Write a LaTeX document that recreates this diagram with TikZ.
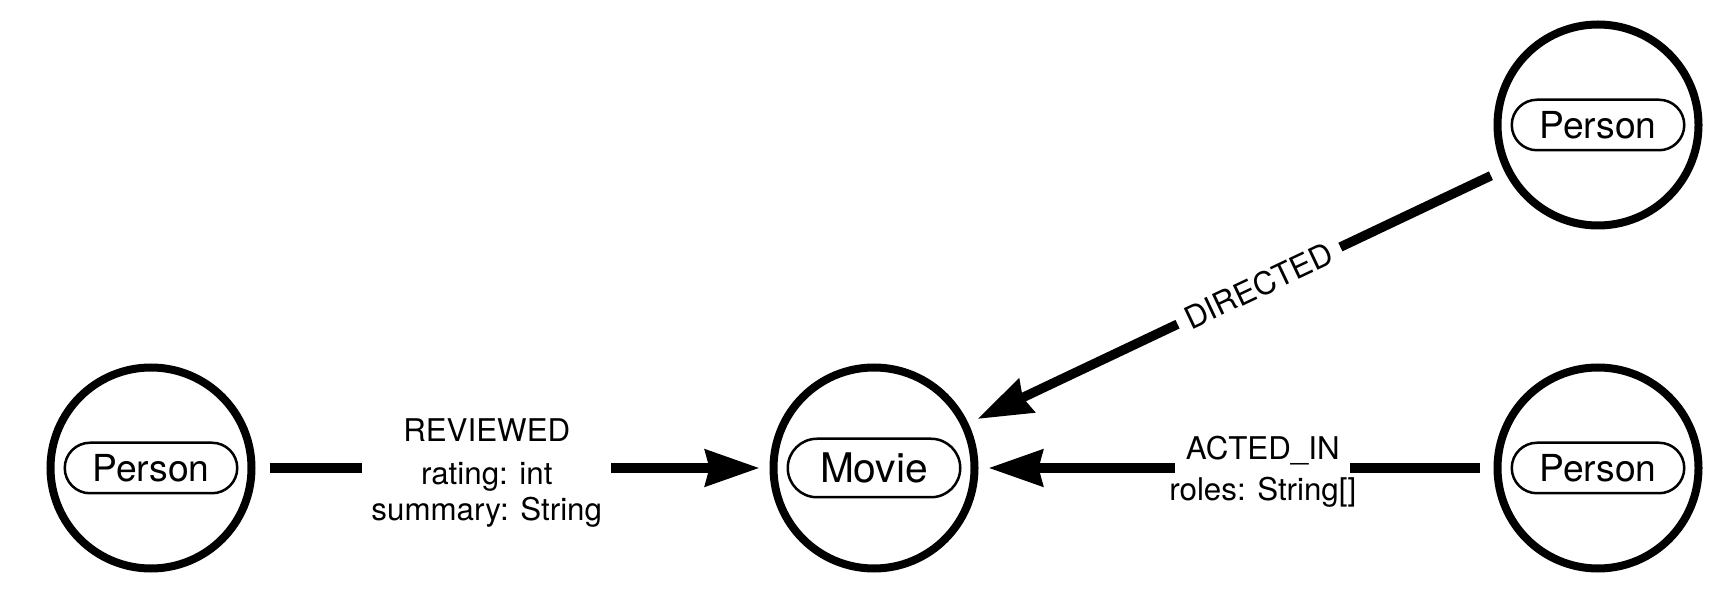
\documentclass[tikz,border=0pt]{standalone}
\usepackage{fontspec}
\setmainfont{TeX Gyre Heros}
\usetikzlibrary{arrows.meta,shapes.misc}
\tikzset{
  ent/.style={circle, draw=black, line width=4pt, minimum size=100.5pt, inner sep=0pt, outer sep=9pt},
  pill/.style={rounded rectangle, draw=black, line width=1.25pt, minimum width=86.25pt, inner sep=0pt},
  personpill/.style={pill, minimum height=25.25pt, font=\fontsize{18.6pt}{22pt}\selectfont},
  moviepill/.style={pill, minimum height=29.25pt, font=\fontsize{20.4pt}{24pt}\selectfont},
  rel/.style={draw=black, line width=4.75pt, shorten >=-2pt, -{Stealth[length=27pt, width=18pt, inset=2pt]}},
  reltxt/.style={font=\fontsize{15.65pt}{19pt}\selectfont, inner sep=0pt},
  relbox/.style={reltxt, fill=white, inner xsep=5pt, inner ysep=3pt}
}
\begin{document}
\begin{tikzpicture}[x=0.5pt, y=-0.5pt]
  \useasboundingbox (0,0) rectangle (1734,592);
  % entity circles
  \node[ent] (P1) at (151,468) {};
  \node[ent] (M)  at (874,468) {};
  \node[ent] (P2) at (1598,125) {};
  \node[ent] (P3) at (1598,468) {};
  % labels inside
  \node[personpill] (P1l) at (P1) {Person};
  \node[moviepill]  (Ml)  at (M)  {Movie};
  \node[personpill] (P2l) at (P2) {Person};
  \node[personpill] (P3l) at (P3) {Person};
  % relationships
  \draw[rel] (P1) --
    node[reltxt, pos=.447, anchor=base, yshift=13pt] (rv) {REVIEWED}
    node[relbox, pos=.447, anchor=base, yshift=-8.5pt, minimum width=124.5pt] (rvr) {rating: int}
    node[reltxt, pos=.447, anchor=base, yshift=-26.5pt] (rvs) {summary: String}
    (M);
  \draw[rel] (P3) --
    node[relbox, pos=.445, anchor=base, yshift=4.25pt, minimum width=87.5pt, text depth=3pt, inner ysep=4pt] (ai) {ACTED\_IN}
    node[reltxt, pos=.445, anchor=base, yshift=-16.25pt] (air) {roles: String[]}
    (M);
  \draw[rel] (P2) --
    node[relbox, pos=.455, sloped] (dir) {DIRECTED}
    (M);
\end{tikzpicture}
\end{document}
